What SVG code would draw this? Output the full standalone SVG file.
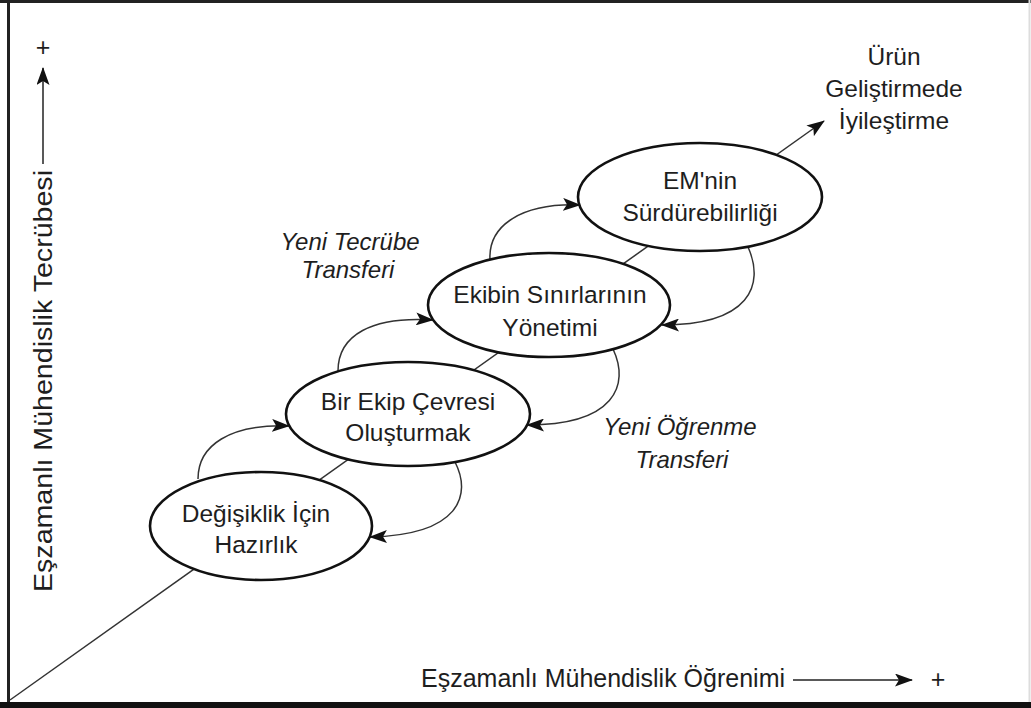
<svg xmlns="http://www.w3.org/2000/svg" width="1031" height="708" viewBox="0 0 1031 708">
  <defs>
    <marker id="head" viewBox="0 0 18 13" refX="17" refY="6.5" markerWidth="18" markerHeight="13" markerUnits="userSpaceOnUse" orient="auto">
      <path d="M0,0 L18,6.5 L0,13 L4,6.5 Z" fill="#111"/>
    </marker>
    <style>
      .lbl { font-family: "Liberation Sans", Arial, sans-serif; font-size: 24.5px; fill: #1e1e1e; text-anchor: middle; }
      .ital { font-family: "Liberation Sans", Arial, sans-serif; font-size: 24px; font-style: italic; fill: #1e1e1e; text-anchor: middle; }
      .axis { font-family: "Liberation Sans", Arial, sans-serif; font-size: 25px; fill: #1e1e1e; }
      .node { fill: #fff; stroke: #111; stroke-width: 2.6; }
      .link { fill: none; stroke: #333; stroke-width: 1.5; }
    </style>
  </defs>

  <!-- page and frame -->
  <rect x="0" y="0" width="1031" height="708" fill="#fff"/>
  <line x1="0" y1="1.5" x2="1031" y2="1.5" stroke="#222" stroke-width="3"/>
  <line x1="8.5" y1="0" x2="8.5" y2="708" stroke="#222" stroke-width="3"/>
  <line x1="1029.5" y1="0" x2="1029.5" y2="708" stroke="#ddd" stroke-width="2"/>
  <line x1="0" y1="705" x2="1031" y2="705" stroke="#111" stroke-width="6"/>

  <!-- axes -->
  <g id="axis-y">
    <text class="axis" transform="translate(52,592) rotate(-90)" font-size="26" textLength="422" lengthAdjust="spacingAndGlyphs">Eşzamanlı Mühendislik Tecrübesi</text>
    <line x1="43" y1="164" x2="43" y2="68" stroke="#222" stroke-width="1.5" marker-end="url(#head)"/>
    <text class="axis" x="43" y="56" text-anchor="middle">+</text>
  </g>
  <g id="axis-x">
    <text class="axis" x="421" y="687">Eşzamanlı Mühendislik Öğrenimi</text>
    <line x1="793" y1="680" x2="912" y2="680" stroke="#222" stroke-width="1.5" marker-end="url(#head)"/>
    <text class="axis" x="938" y="688" text-anchor="middle">+</text>
  </g>

  <!-- connectors -->
  <g id="connectors">
    <line class="link" x1="10" y1="700" x2="824" y2="121" marker-end="url(#head)"/>
    <path class="link" d="M198,479 C198,445 230,424 289,426" marker-end="url(#head)"/>
    <path class="link" d="M338,371 C338,335 372,316 433,320" marker-end="url(#head)"/>
    <path class="link" d="M490,260 C488,225 522,203 580,205" marker-end="url(#head)"/>
    <path class="link" d="M455,462 C472,495 460,535 370,537" marker-end="url(#head)"/>
    <path class="link" d="M613,349 C630,385 615,425 527,425" marker-end="url(#head)"/>
    <path class="link" d="M748,247 C765,285 750,325 662,325" marker-end="url(#head)"/>
  </g>

  <!-- stages -->
  <g id="stage-readiness">
    <ellipse class="node" cx="261" cy="526" rx="111" ry="54"/>
    <text class="lbl" x="256" y="522">Değişiklik İçin</text>
    <text class="lbl" x="256" y="553">Hazırlık</text>
  </g>
  <g id="stage-team-environment">
    <ellipse class="node" cx="408" cy="414" rx="122" ry="52"/>
    <text class="lbl" x="408" y="410">Bir Ekip Çevresi</text>
    <text class="lbl" x="408" y="441">Oluşturmak</text>
  </g>
  <g id="stage-boundaries">
    <ellipse class="node" cx="549" cy="305" rx="121" ry="52"/>
    <text class="lbl" x="550" y="303">Ekibin Sınırlarının</text>
    <text class="lbl" x="550" y="336">Yönetimi</text>
  </g>
  <g id="stage-sustainability">
    <ellipse class="node" cx="700" cy="197" rx="122" ry="54"/>
    <text class="lbl" x="700" y="189">EM'nin</text>
    <text class="lbl" x="700" y="221">Sürdürebilirliği</text>
  </g>
  <g id="outcome">
    <text class="lbl" x="894" y="65">Ürün</text>
    <text class="lbl" x="894" y="97">Geliştirmede</text>
    <text class="lbl" x="894" y="129">İyileştirme</text>
  </g>

  <!-- transfer labels -->
  <g id="label-experience">
    <text class="ital" x="350" y="250">Yeni Tecrübe</text>
    <text class="ital" x="348" y="278">Transferi</text>
  </g>
  <g id="label-learning">
    <text class="ital" x="680" y="435">Yeni Öğrenme</text>
    <text class="ital" x="682" y="468">Transferi</text>
  </g>
</svg>
